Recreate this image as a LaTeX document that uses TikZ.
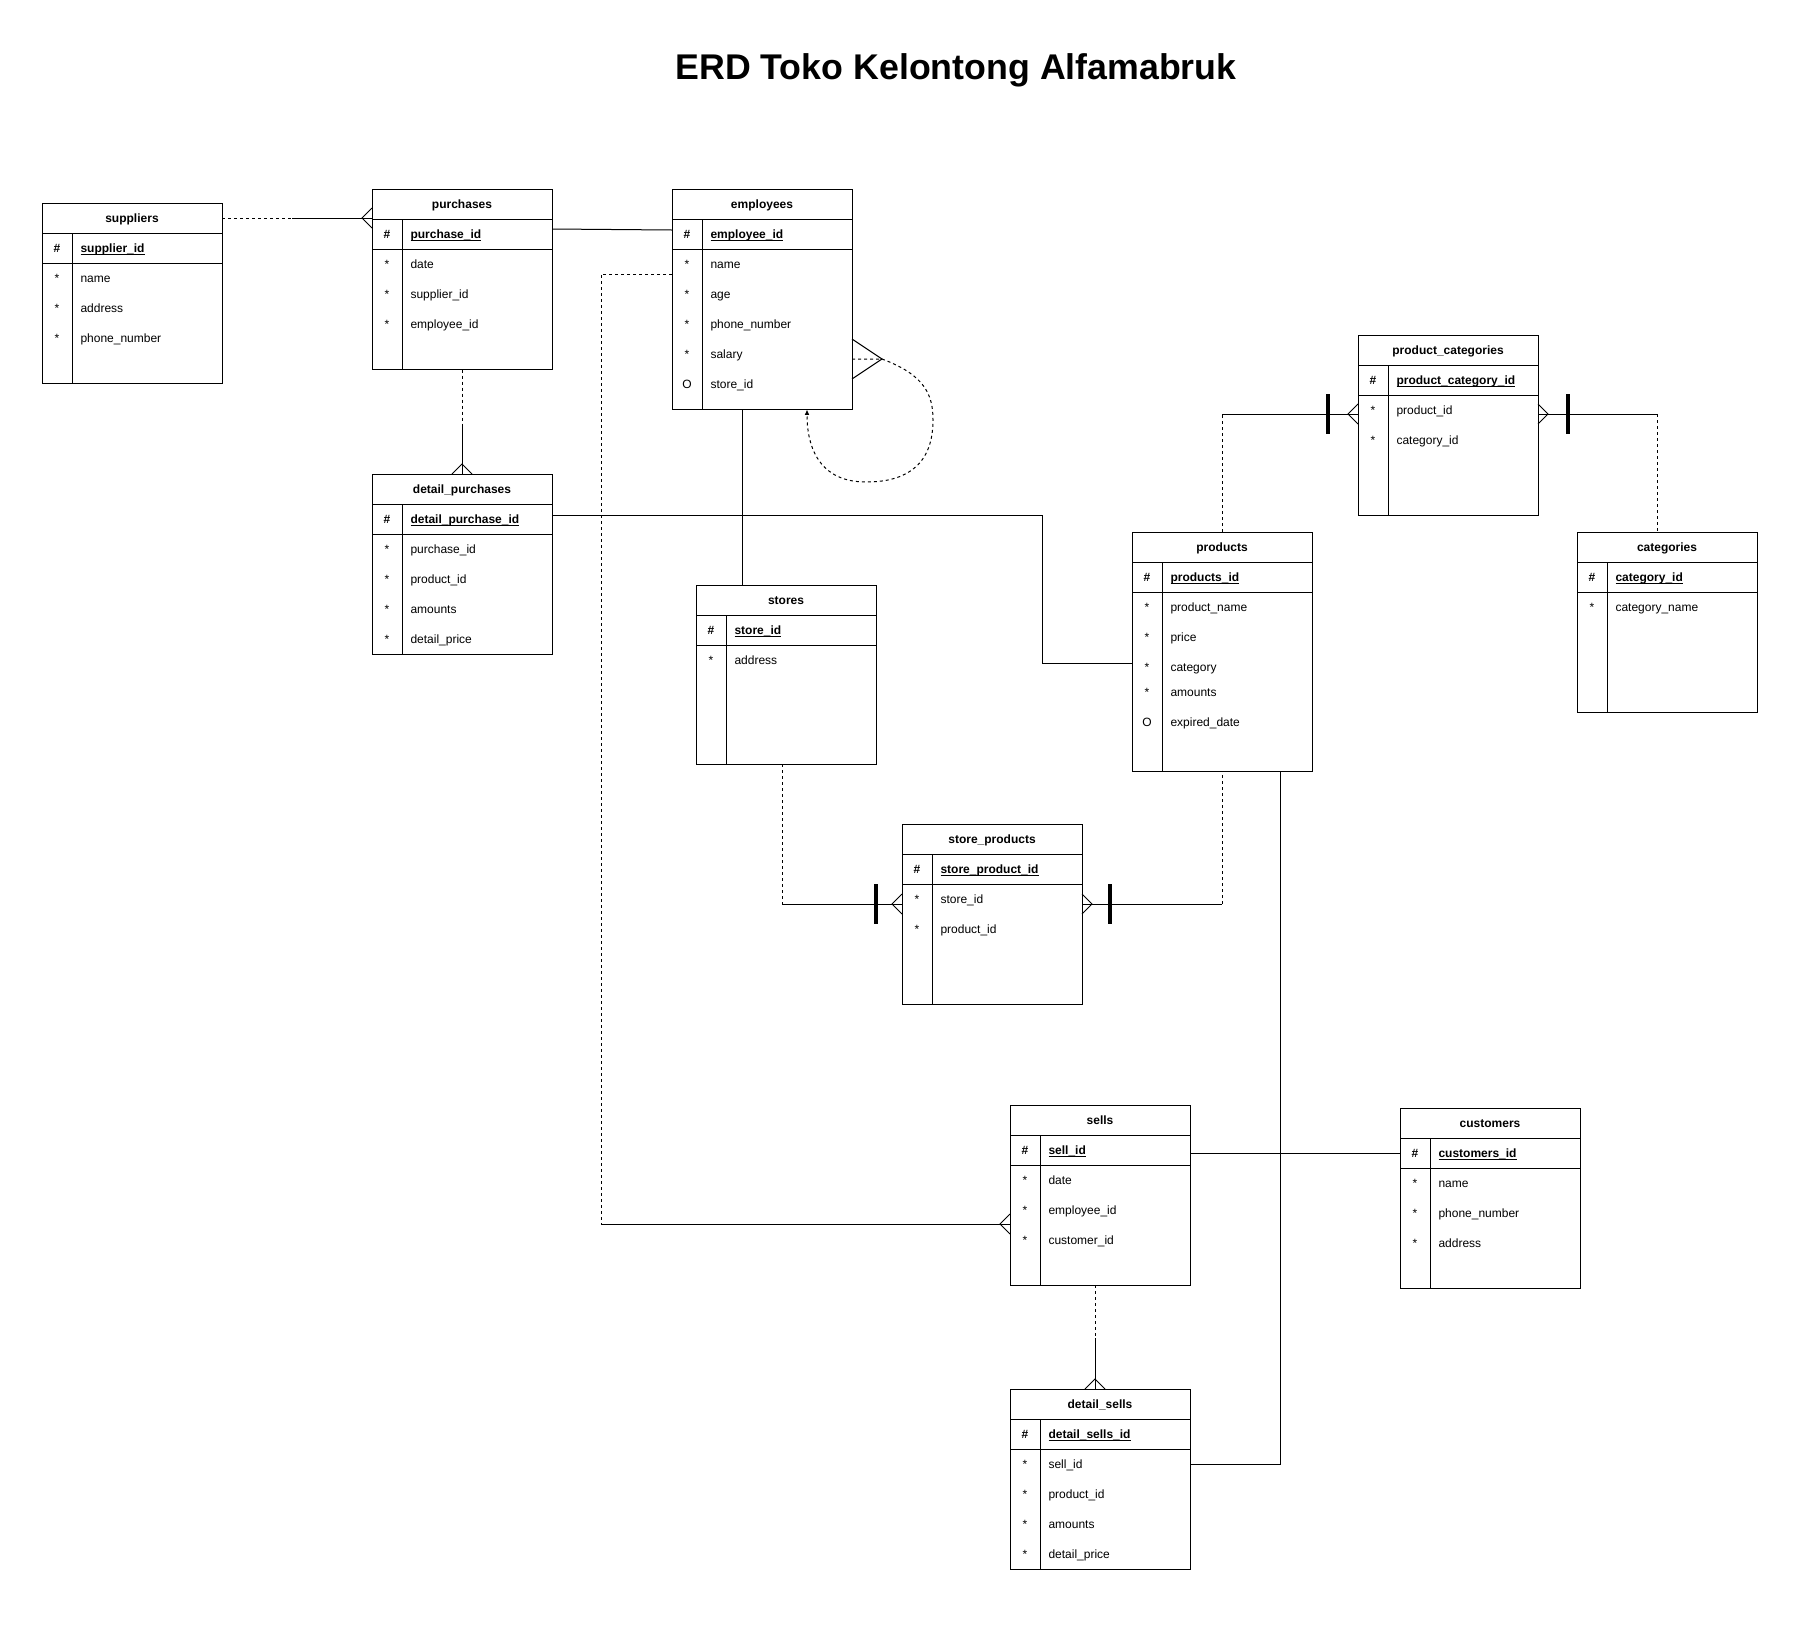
\documentclass[tikz,border=0pt]{standalone}
\usepackage{fontspec}
\setmainfont{Liberation Sans}
\usetikzlibrary{arrows.meta}

\newcommand{\tablefont}{\fontsize{9}{11}\selectfont}

\tikzset{
  tblbox/.style={draw, rectangle, minimum width=135pt, inner sep=0pt, outer sep=0pt},
  tblrow/.style={draw, rectangle, minimum width=135pt, minimum height=22.5pt, inner sep=0pt, outer sep=0pt},
  tblhead/.style={anchor=base, inner sep=0pt, font=\tablefont\bfseries},
  tblsign/.style={anchor=base, inner sep=0pt, font=\tablefont},
  tblattr/.style={anchor=base west, inner sep=0pt, font=\tablefont},
  dashline/.style={dash pattern=on 2.25pt off 2.25pt},
  crowW/.pic={\draw (0,-10) -- (-10,0) -- (0,10);},
  crowE/.pic={\draw (0,-10) -- (10,0) -- (0,10);},
  crowN/.pic={\draw (-10,0) -- (0,-10) -- (10,0);},
  onebar/.pic={\draw[line width=2.6pt] (0,-20) -- (0,20);}
}

% table: name, left, top, height, title, key, rows (offset/sign/text)
\newcommand{\erdtable}[7]{%
  \node[tblbox, minimum height=#4*0.75pt, anchor=north west] (#1) at (#2,#3) {};
  \node[tblrow, anchor=north west] (#1-h) at (#1.north west) {};
  \node[tblrow, anchor=north west] (#1-k) at (#1-h.south west) {};
  \node[tblhead] at (#2+90,#3+19) {#5};
  \node[tblsign, font=\tablefont\bfseries] at (#2+15,#3+49) {\#};
  \node[tblattr, font=\tablefont\bfseries] at (#2+38,#3+49) {\underline{\smash{#6}}};
  \draw (#2+30,#3+30) -- (#2+30,#3+#4);
  \foreach \dy/\sg/\txt [count=\i] in {#7} {
    \node[tblsign] at (#2+15,#3+\dy+4) {\sg};
    \node[tblattr] (#1-\i) at (#2+38,#3+\dy+4) {\txt};
  }%
}

\begin{document}
\begin{tikzpicture}[x=0.75pt, y=-0.75pt, line width=0.75pt]
  \path[fill=white, use as bounding box] (0,0) rectangle (1812,1628);

  \node[anchor=base, font=\fontsize{26.8}{30}\selectfont\bfseries] (title) at (956,79) {ERD Toko Kelontong Alfamabruk};

  % tables
  \erdtable{sup}{42}{203}{180}{suppliers}{supplier\_id}
    {75/*/name, 105/*/address, 135/*/phone\_number}
  \erdtable{pur}{372}{189.5}{180}{purchases}{purchase\_id}
    {75/*/date, 105/*/supplier\_id, 135/*/employee\_id}
  \erdtable{emp}{672}{189.5}{220}{employees}{employee\_id}
    {75/*/name, 105/*/age, 135/*/phone\_number, 165/*/salary, 195/O/store\_id}
  \erdtable{dpur}{372}{474}{180}{detail\_purchases}{detail\_purchase\_id}
    {75/*/purchase\_id, 105/*/product\_id, 135/*/amounts, 165/*/detail\_price}
  \erdtable{sto}{696}{585}{179}{stores}{store\_id}
    {75/*/address}
  \erdtable{pcat}{1358}{335}{180}{product\_categories}{product\_category\_id}
    {75/*/product\_id, 105/*/category\_id}
  \erdtable{prod}{1132}{532}{239}{products}{products\_id}
    {75/*/product\_name, 105/*/price, 135/*/category, 160/*/amounts, 190/O/expired\_date}
  \erdtable{cat}{1577}{532}{180}{categories}{category\_id}
    {75/*/category\_name}
  \erdtable{spro}{902}{824}{180}{store\_products}{store\_product\_id}
    {75/*/store\_id, 105/*/product\_id}
  \erdtable{sell}{1010}{1105}{180}{sells}{sell\_id}
    {75/*/date, 105/*/employee\_id, 135/*/customer\_id}
  \erdtable{cust}{1400}{1108}{180}{customers}{customers\_id}
    {75/*/name, 105/*/phone\_number, 135/*/address}
  \erdtable{dsel}{1010}{1389}{180}{detail\_sells}{detail\_sells\_id}
    {75/*/sell\_id, 105/*/product\_id, 135/*/amounts, 165/*/detail\_price}

  % suppliers - purchases
  \coordinate (c1) at (292,218);
  \draw[dashline] (sup-h.east) -- (c1);
  \draw (c1) -- (pur.west |- c1);
  \pic at (pur.west |- c1) {crowW};

  % purchases - employees
  \draw (pur.east |- 0,229) -- (emp.west |- 0,230);

  % purchases - detail_purchases
  \coordinate (c2) at (462,424);
  \draw[dashline] (pur.south) -- (c2);
  \draw (c2) -- (dpur.north);
  \pic at (dpur.north) {crowN};

  % employees - sells
  \coordinate (c3) at (601,274);
  \coordinate (c4) at (601,1224);
  \draw[dashline] (emp.west |- c3) -- (c3) -- (c4);
  \draw (c4) -- (sell.west |- c4);
  \pic at (sell.west |- c4) {crowW};

  % employees - stores
  \draw (emp.south -| 742,0) -- (sto.north -| 742,0);

  % employees - employees
  \coordinate (c14) at (882,359);
  \draw (emp.east |- 0,339) -- (c14) -- (emp.east |- 0,379);
  \draw[dashline, -{Latex[length=4pt, width=3.5pt]}] (emp.east |- c14) -- (c14)
    .. controls (925,375) and (933,395) .. (933,420)
    .. controls (933,470) and (900,482) .. (866,482)
    .. controls (825,482) and (807,455) .. (emp.south -| 807,0);

  % detail_purchases - products
  \coordinate (c5) at (1042,515);
  \coordinate (c6) at (1042,663);
  \draw (dpur.east |- c5) -- (c5) -- (c6) -- (prod.west |- c6);

  % products - product_categories
  \coordinate (c7) at (1222,414);
  \draw[dashline] (prod.north) -- (c7);
  \draw (c7) -- (pcat.west |- c7);
  \pic at (pcat.west |- c7) {crowW};
  \pic at (1328,414) {onebar};

  % product_categories - categories
  \coordinate (c9) at (1657,414);
  \draw (pcat.east |- c9) -- (c9);
  \draw[dashline] (c9) -- (cat.north -| c9);
  \pic at (pcat.east |- c9) {crowE};
  \pic at (1568,414) {onebar};

  % stores - store_products
  \coordinate (c10) at (782,904);
  \draw[dashline] (sto.south -| c10) -- (c10);
  \draw (c10) -- (spro.west |- c10);
  \pic at (spro.west |- c10) {crowW};
  \pic at (876,904) {onebar};

  % store_products - products
  \coordinate (c11) at (1222,904);
  \draw (spro.east |- c11) -- (c11);
  \draw[dashline] (c11) -- (prod.south);
  \pic at (spro.east |- c11) {crowE};
  \pic at (1110,904) {onebar};

  % products - detail_sells
  \coordinate (c12) at (1280,1464);
  \draw (prod.south -| c12) -- (c12) -- (dsel.east |- c12);

  % sells - customers
  \draw (sell.east |- cust-k) -- (cust-k.west);

  % sells - detail_sells
  \coordinate (c13) at (1095,1338);
  \draw[dashline] (sell.south -| c13) -- (c13);
  \draw (c13) -- (dsel.north -| c13);
  \pic at (dsel.north -| c13) {crowN};
\end{tikzpicture}
\end{document}
